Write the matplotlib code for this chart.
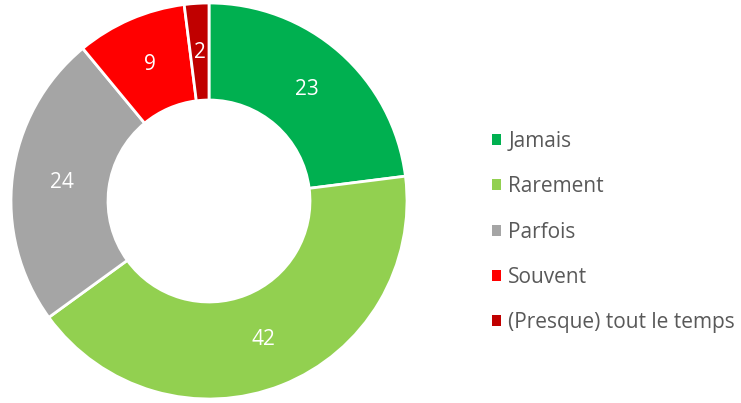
import matplotlib
matplotlib.use('Agg')
import matplotlib.pyplot as plt
from matplotlib.patches import Patch

categories = ['Jamais', 'Rarement', 'Parfois', 'Souvent', '(Presque) tout le temps']
values = [23, 42, 24, 9, 2]
colors = ['#00B050', '#92D050', '#A5A5A5', '#FF0000', '#C00000']

plt.rcParams['font.family'] = ['Open Sans', 'DejaVu Sans']

fig = plt.figure(figsize=(7.41, 4.03), dpi=100)
# donut centred at (209, 201) px, radius ~198 px
ax = fig.add_axes([(209 - 198) / 741, (403 - 201 - 198) / 403, 396 / 741, 396 / 403])

wedges, texts = ax.pie(values, colors=colors, startangle=90, counterclock=False,
                       radius=1.0, labels=[str(v) for v in values],
                       labeldistance=0.75,
                       wedgeprops=dict(width=0.49, edgecolor='white', linewidth=2),
                       textprops=dict(color='white', fontsize=15))
for t in texts:
    t.set_horizontalalignment('center')
    t.set_verticalalignment('center')
ax.set_xlim(-1, 1)
ax.set_ylim(-1, 1)
ax.set_aspect('equal')
ax.axis('off')

handles = [Patch(facecolor=c, edgecolor='none') for c in colors]
fig.legend(handles, categories, loc='center left', bbox_to_anchor=(492 / 741, 1 - 232 / 403),
           frameon=False, fontsize=15, labelcolor='#595959', borderpad=0, borderaxespad=0,
           handlelength=0.43, handleheight=0.43, handletextpad=0.35,
           labelspacing=1.16)

fig.savefig('out.png', dpi=100)
